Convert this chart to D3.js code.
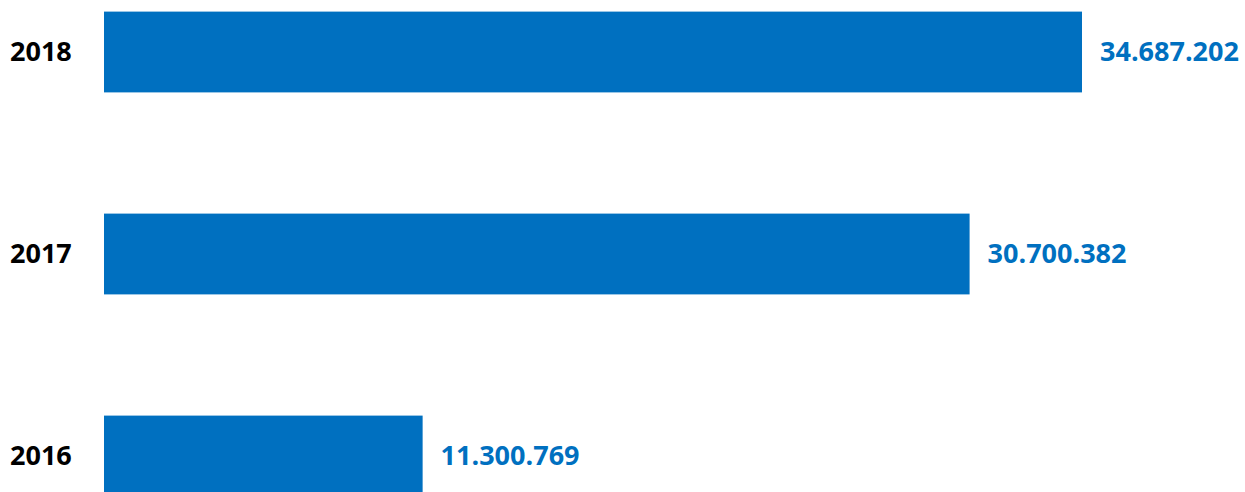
<!DOCTYPE html>
<html>
<head>
<meta charset="utf-8">
<script src="https://cdn.jsdelivr.net/npm/d3@7"></script>
<style>
html,body{margin:0;padding:0;background:#fff;overflow:hidden;}
text{font-family:"Open Sans","Liberation Sans",sans-serif;font-weight:700;}
</style>
</head>
<body>
<script>
const categories = ["2018", "2017", "2016"];
const values = [34687202, 30700382, 11300769];
const valueLabels = ["34.687.202", "30.700.382", "11.300.769"];

const W = 1245, H = 492;
const svg = d3.select("body").append("svg").attr("width", W).attr("height", H);

const x = d3.scaleLinear().domain([0, d3.max(values)]).range([104, 1082]);
const y = d3.scaleBand().domain(categories).range([-49, 557]).paddingInner(0.6).paddingOuter(0.3);

const data = categories.map((c, i) => ({c, v: values[i], l: valueLabels[i]}));

svg.selectAll("rect.bar").data(data).enter().append("rect")
  .attr("class", "bar")
  .attr("x", x(0))
  .attr("y", d => y(d.c))
  .attr("width", d => x(d.v) - x(0))
  .attr("height", y.bandwidth())
  .attr("fill", "#0070C0");

svg.selectAll("text.cat").data(data).enter().append("text")
  .attr("class", "cat")
  .attr("x", 10)
  .attr("y", d => y(d.c) + y.bandwidth() / 2)
  .attr("dy", "0.35em")
  .attr("font-size", 27)
  .attr("fill", "#000")
  .text(d => d.c);

svg.selectAll("text.val").data(data).enter().append("text")
  .attr("class", "val")
  .attr("x", d => x(d.v) + 18)
  .attr("y", d => y(d.c) + y.bandwidth() / 2)
  .attr("dy", "0.35em")
  .attr("font-size", 27)
  .attr("fill", "#0070C0")
  .text(d => d.l);
</script>
</body>
</html>
